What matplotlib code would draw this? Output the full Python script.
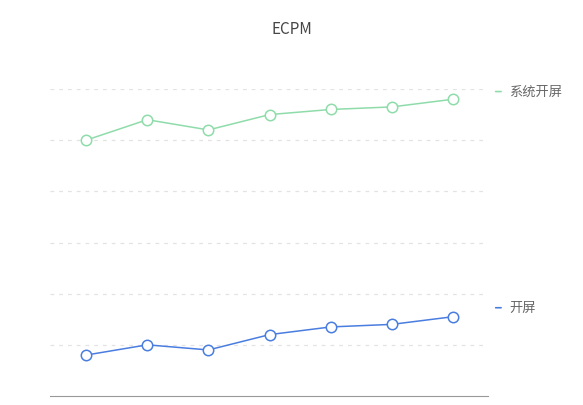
import numpy as np
import matplotlib.pyplot as plt

plt.rcParams['font.family'] = ['Noto Sans CJK SC', 'DejaVu Sans']

categories = ['1', '2', '3', '4', '5', '6', '7']
series_names = ['系统开屏', '开屏']
system_splash = [100, 108, 104, 110, 112, 113, 116]
splash = [16, 20, 18, 24, 27, 28, 31]
colors = ['#8fdcaa', '#4a7de0']

W, H = 583, 406
fig = plt.figure(figsize=(W / 100, H / 100), dpi=100)
ax = fig.add_axes([50 / W, 9 / H, 438 / W, (397 - 90) / H])

x = np.arange(len(categories))
for vals, name, c, dy in [(system_splash, series_names[0], colors[0], 3.0),
                          (splash, series_names[1], colors[1], 3.5)]:
    ax.plot(x, vals, color=c, lw=1.1, marker='o', ms=7.5,
            mfc='white', mec=c, mew=1.1, zorder=3, clip_on=False)
    ly = vals[-1] + dy
    ax.annotate('', xy=(6.83, ly), xytext=(6.65, ly), annotation_clip=False,
                arrowprops=dict(arrowstyle='-', color=c, lw=1.2))
    ax.text(6.92, ly, name, color='#666666', fontsize=9.5, va='center',
            ha='left', clip_on=False)

ax.set_xlim(-0.59, 6.57)
ax.set_ylim(0, 120)
ax.set_yticks([20, 40, 60, 80, 100, 120])
ax.grid(axis='y', linestyle=(0, (3, 4)), color='#e3e3e3', lw=0.9)
ax.tick_params(left=False, bottom=False, labelleft=False, labelbottom=False)
for s in ['top', 'right', 'left']:
    ax.spines[s].set_visible(False)
ax.spines['bottom'].set_color('#999999')

fig.text(292 / W, 1 - 30 / H, 'ECPM', ha='center', va='center',
         fontsize=11, color='#464646')

plt.savefig('out.png', dpi=100)
